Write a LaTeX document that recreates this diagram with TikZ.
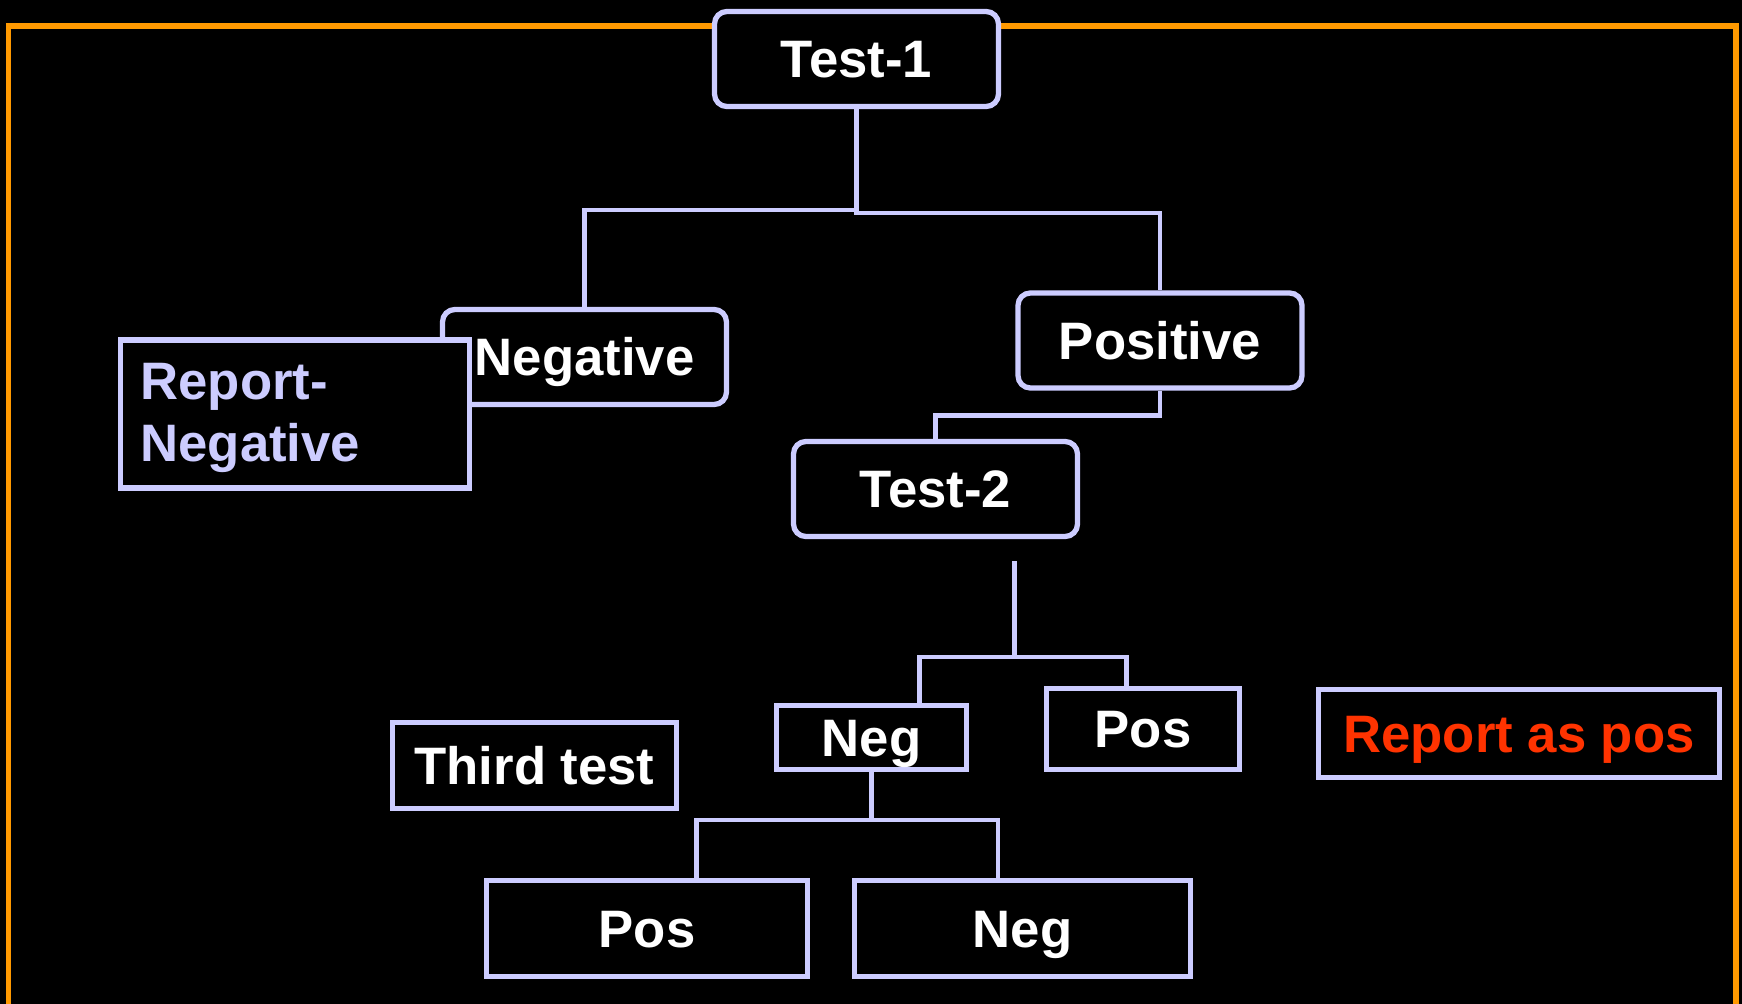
\documentclass[tikz,border=0pt]{standalone}
\usepackage{fontspec}
\setmainfont{Liberation Sans}
\usepackage{xcolor}
\usepackage{tikz}
\usetikzlibrary{calc}
\definecolor{lavender}{HTML}{CCCCFF}
\definecolor{frameorange}{HTML}{FF9900}
\definecolor{alertred}{HTML}{FF3300}

\begin{document}
\begin{tikzpicture}[x=0.02cm, y=-0.02cm,
        box/.style={draw=lavender, line width=3pt, fill=black, text=white, inner sep=0pt,
            text height=21.5pt, text depth=0pt, font=\fontsize{30}{36}\selectfont\bfseries},
        test/.style={box, rounded corners=7pt, minimum width=5.68cm, minimum height=1.9cm},
        note/.style={draw=lavender, line width=3pt, fill=black, text=lavender, inner sep=0pt,
            align=left, text width=6.18cm, minimum width=6.98cm, minimum height=2.96cm,
            font=\fontsize{30}{35.4}\selectfont\bfseries},
        link/.style={draw=lavender, line width=2.6pt}]
        \fill[black] (0,0) rectangle (1742,1004);
        \useasboundingbox (0,0) rectangle (1742,1004);
        \draw[frameorange, line width=3.4pt] (8.5,1010) -- (8.5,26) -- (1736,26) -- (1736,1010);

        \node[test] (t1)   at (856.5,59)   {Test-1};
        \node[test] (neg1) at (584.5,357)  {Negative};
        \node[test] (pos1) at (1160,340.5) {Positive};
        \node[test] (t2)   at (935.5,489)  {Test-2};
        \node[note] (repneg) at (295,414)  {\rule{0pt}{25pt}Report-\\Negative};

        \node[box, minimum width=3.8cm, minimum height=1.28cm] (neg2) at (871.5,737.5) {Neg};
        \node[box, minimum width=3.86cm, minimum height=1.62cm] (pos2) at (1143,729) {Pos};
        \node[box, text=alertred, minimum width=8.02cm, minimum height=1.76cm] (reppos) at (1519,733.5) {Report as pos};
        \node[box, minimum width=5.68cm, minimum height=1.72cm] (third) at (534.5,765.5) {Third test};
        \node[box, minimum width=6.42cm, minimum height=1.92cm] (posL) at (647,928.5) {Pos};
        \node[box, minimum width=6.72cm, minimum height=1.92cm] (negR) at (1022.5,928.5) {Neg};

        \coordinate (split2) at (1014.5,561);

        \draw[link] (t1.south) -- ++(0,101) -| (neg1.north);
        \draw[link] (t1.south) -- ++(0,104) -| (pos1.north);
        \draw[link] (pos1.south) -- ++(0,25) -| (t2.north);
        \draw[link] (split2) -- ++(0,96) coordinate (fork2) -| ($(neg2.north)+(48,0)$);
        \draw[link] (fork2) -| ($(pos2.north)+(-16.5,0)$);
        \draw[link] (neg2.south) -- ++(0,48) coordinate (fork3) -| ($(posL.north)+(49.5,0)$);
        \draw[link] (fork3) -| ($(negR.north)+(-24.5,0)$);
        \draw[black, line width=1pt] (pos2.east) -- (reppos.west);
\end{tikzpicture}
\end{document}
